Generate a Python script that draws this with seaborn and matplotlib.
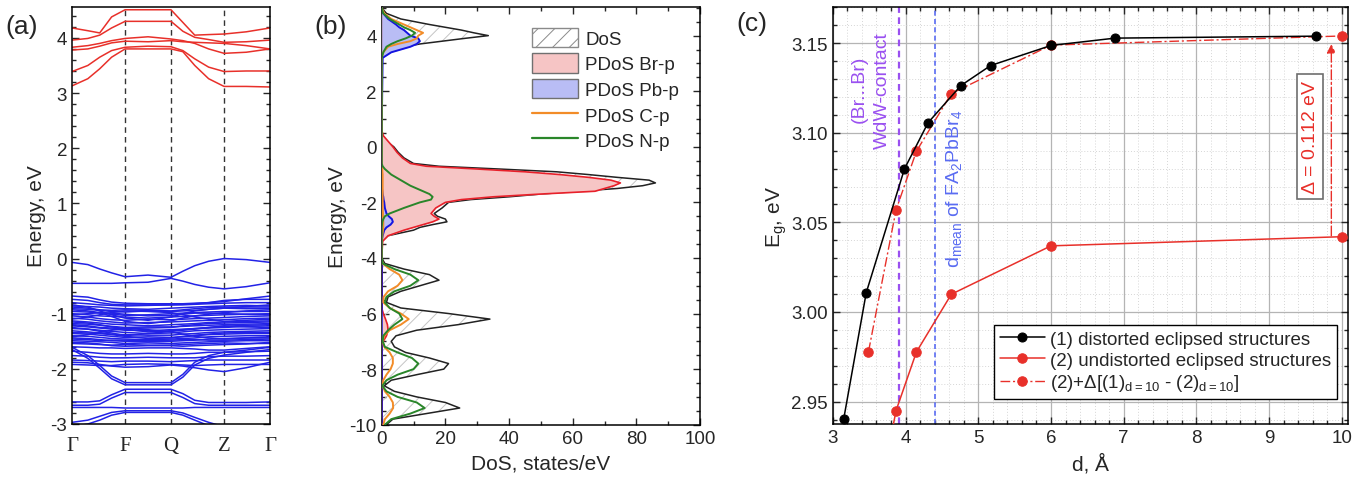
import numpy as np
import pandas as pd
import matplotlib
matplotlib.use("Agg")
import matplotlib.pyplot as plt
import seaborn as sns
from matplotlib.patches import Patch
from matplotlib.lines import Line2D
from matplotlib.ticker import MultipleLocator, FormatStrFormatter

# ------------------------------------------------------------------ data
# (a) band structure: energies (eV) at the k-path positions below
K_LABELS = ["Γ", "F", "Q", "Z", "Γ"]
K_TICKS = [0.0, 0.268, 0.5, 0.768, 1.0]
K_PATH = [0.0, 0.08, 0.14, 0.20, 0.268, 0.384, 0.5, 0.56, 0.62, 0.69, 0.768, 0.88, 1.0]

CB_BANDS = [
    [4.18, 4.13, 4.09, 4.38, 4.51, 4.51, 4.51, 4.28, 4.05, 4.06, 4.07, 4.11, 4.18],
    [3.96, 3.99, 4.05, 4.18, 4.30, 4.30, 4.30, 4.12, 4.01, 3.97, 3.92, 3.93, 3.96],
    [3.83, 3.86, 3.90, 3.95, 3.99, 4.02, 3.98, 3.95, 3.90, 3.80, 3.72, 3.74, 3.80],
    [3.78, 3.80, 3.85, 3.91, 3.94, 3.93, 3.95, 3.93, 3.92, 3.91, 3.90, 3.86, 3.80],
    [3.39, 3.50, 3.65, 3.77, 3.83, 3.85, 3.84, 3.77, 3.62, 3.47, 3.39, 3.40, 3.40],
    [3.13, 3.26, 3.44, 3.65, 3.80, 3.80, 3.80, 3.75, 3.50, 3.26, 3.12, 3.12, 3.11],
]

VB_BANDS = [
    [-0.07, -0.11, -0.19, -0.26, -0.33, -0.30, -0.34, -0.23, -0.13, -0.05, 0.00, -0.02, -0.07],
    [-0.45, -0.45, -0.45, -0.45, -0.44, -0.43, -0.36, -0.41, -0.47, -0.52, -0.55, -0.51, -0.44],
    [-0.68, -0.70, -0.75, -0.79, -0.81, -0.82, -0.82, -0.82, -0.81, -0.80, -0.78, -0.73, -0.68],
    [-0.74, -0.76, -0.80, -0.83, -0.84, -0.84, -0.84, -0.83, -0.82, -0.80, -0.76, -0.74, -0.74],
    [-0.80, -0.82, -0.84, -0.85, -0.86, -0.85, -0.84, -0.84, -0.83, -0.82, -0.81, -0.80, -0.80],
    [-0.86, -0.87, -0.88, -0.90, -0.91, -0.92, -0.90, -0.89, -0.88, -0.87, -0.86, -0.85, -0.86],
    [-0.88, -0.90, -0.93, -0.94, -0.93, -0.94, -0.95, -0.93, -0.91, -0.89, -0.88, -0.88, -0.88],
    [-0.91, -0.92, -0.94, -0.96, -0.97, -0.95, -0.96, -0.95, -0.94, -0.92, -0.90, -0.91, -0.91],
    [-0.96, -0.97, -0.99, -1.01, -1.03, -1.02, -1.00, -0.99, -0.98, -0.97, -0.96, -0.96, -0.96],
    [-1.00, -1.02, -1.04, -1.05, -1.06, -1.08, -1.06, -1.05, -1.04, -1.03, -1.02, -1.01, -1.00],
    [-1.02, -1.00, -0.98, -0.99, -1.01, -1.04, -1.03, -1.01, -0.99, -0.99, -1.00, -1.01, -1.02],
    [-1.04, -1.06, -1.09, -1.11, -1.12, -1.10, -1.11, -1.10, -1.09, -1.08, -1.07, -1.05, -1.04],
    [-1.08, -1.10, -1.13, -1.15, -1.17, -1.16, -1.15, -1.14, -1.13, -1.12, -1.11, -1.09, -1.08],
    [-1.13, -1.15, -1.17, -1.19, -1.20, -1.22, -1.20, -1.19, -1.18, -1.16, -1.15, -1.14, -1.13],
    [-1.15, -1.17, -1.20, -1.24, -1.27, -1.26, -1.25, -1.22, -1.20, -1.18, -1.17, -1.16, -1.15],
    [-1.18, -1.19, -1.21, -1.23, -1.25, -1.24, -1.24, -1.23, -1.22, -1.21, -1.20, -1.19, -1.18],
    [-1.20, -1.22, -1.25, -1.26, -1.28, -1.33, -1.31, -1.29, -1.27, -1.25, -1.23, -1.21, -1.20],
    [-1.22, -1.24, -1.26, -1.28, -1.30, -1.31, -1.29, -1.28, -1.27, -1.26, -1.25, -1.23, -1.22],
    [-1.27, -1.28, -1.30, -1.32, -1.34, -1.36, -1.35, -1.33, -1.31, -1.30, -1.29, -1.28, -1.27],
    [-1.31, -1.33, -1.35, -1.37, -1.38, -1.39, -1.39, -1.37, -1.36, -1.34, -1.33, -1.32, -1.31],
    [-1.34, -1.35, -1.36, -1.38, -1.41, -1.45, -1.44, -1.41, -1.39, -1.37, -1.35, -1.34, -1.34],
    [-1.36, -1.37, -1.39, -1.41, -1.43, -1.42, -1.43, -1.42, -1.40, -1.38, -1.37, -1.36, -1.36],
    [-1.40, -1.41, -1.43, -1.45, -1.46, -1.47, -1.46, -1.45, -1.44, -1.42, -1.41, -1.40, -1.40],
    [-1.44, -1.45, -1.47, -1.49, -1.50, -1.51, -1.50, -1.49, -1.48, -1.46, -1.45, -1.44, -1.44],
    [-1.46, -1.47, -1.49, -1.48, -1.48, -1.49, -1.48, -1.47, -1.47, -1.48, -1.48, -1.47, -1.46],
    [-1.49, -1.50, -1.51, -1.52, -1.54, -1.53, -1.54, -1.53, -1.52, -1.51, -1.50, -1.49, -1.49],
    [-1.52, -1.53, -1.55, -1.58, -1.59, -1.58, -1.58, -1.59, -1.58, -1.57, -1.56, -1.55, -1.52],
    [-0.84, -0.88, -0.95, -1.02, -1.08, -1.12, -1.06, -1.00, -0.95, -0.92, -0.90, -0.87, -0.84],
    [-1.10, -1.06, -1.02, -0.98, -0.95, -0.96, -0.98, -1.02, -1.06, -1.10, -1.14, -1.12, -1.10],
    [-1.25, -1.28, -1.32, -1.35, -1.40, -1.36, -1.32, -1.30, -1.28, -1.25, -1.22, -1.24, -1.25],
    [-1.42, -1.38, -1.34, -1.30, -1.27, -1.29, -1.33, -1.37, -1.41, -1.44, -1.46, -1.44, -1.42],
    [-1.54, -1.55, -1.56, -1.57, -1.56, -1.57, -1.57, -1.56, -1.55, -1.54, -1.53, -1.54, -1.54],
    [-0.93, -0.95, -0.98, -1.05, -1.14, -1.18, -1.13, -1.08, -1.04, -1.01, -0.98, -0.95, -0.93],
    [-1.60, -1.61, -1.62, -1.62, -1.63, -1.62, -1.62, -1.63, -1.64, -1.66, -1.66, -1.63, -1.60],
    [-1.68, -1.70, -1.72, -1.73, -1.73, -1.72, -1.73, -1.73, -1.72, -1.70, -1.70, -1.69, -1.68],
    [-1.76, -1.77, -1.79, -1.80, -1.80, -1.79, -1.80, -1.80, -1.80, -1.78, -1.77, -1.77, -1.76],
    [-1.84, -1.85, -1.86, -1.87, -1.86, -1.86, -1.87, -1.86, -1.85, -1.84, -1.84, -1.84, -1.84],
    [-1.88, -1.89, -1.92, -1.95, -1.97, -1.96, -1.93, -1.95, -1.98, -2.02, -2.05, -1.98, -1.88],
    [-1.92, -1.93, -1.94, -1.94, -1.92, -1.91, -1.92, -1.93, -1.94, -1.93, -1.92, -1.92, -1.92],
    [-1.61, -1.76, -1.94, -2.13, -2.25, -2.25, -2.25, -2.10, -1.88, -1.76, -1.70, -1.66, -1.61],
    [-1.65, -1.81, -1.99, -2.18, -2.29, -2.29, -2.29, -2.15, -1.93, -1.81, -1.75, -1.70, -1.65],
    [-2.60, -2.60, -2.58, -2.47, -2.37, -2.37, -2.37, -2.45, -2.57, -2.61, -2.61, -2.61, -2.60],
    [-2.66, -2.66, -2.64, -2.53, -2.43, -2.43, -2.43, -2.52, -2.63, -2.66, -2.66, -2.66, -2.66],
    [-2.70, -2.70, -2.70, -2.70, -2.71, -2.71, -2.71, -2.71, -2.70, -2.70, -2.70, -2.70, -2.70],
    [-2.97, -2.93, -2.86, -2.79, -2.76, -2.76, -2.76, -2.80, -2.88, -2.97, -3.05, -3.08, -3.05],
    [-3.05, -3.00, -2.93, -2.84, -2.79, -2.79, -2.79, -2.84, -2.93, -3.03, -3.10, -3.12, -3.10],
]

# (b) density of states, three energy windows (eV) and states/eV
E_DEEP = [-10.0, -9.8, -9.6, -9.4, -9.2, -9.0, -8.8, -8.6, -8.4, -8.2, -8.0, -7.8, -7.6, -7.4,
          -7.2, -7.0, -6.8, -6.6, -6.4, -6.2, -6.0, -5.8, -5.6, -5.4, -5.2, -5.0, -4.8, -4.6,
          -4.4, -4.2, -4.0]
E_VB = [-3.4, -3.2, -3.0, -2.9, -2.8, -2.7, -2.6, -2.5, -2.4, -2.2, -2.0, -1.9, -1.8, -1.7,
        -1.6, -1.5, -1.4, -1.3, -1.2, -1.1, -1.0, -0.9, -0.8, -0.7, -0.6, -0.4, -0.2, 0.0,
        0.2, 0.4, 0.6]
E_CB = [3.2, 3.4, 3.6, 3.7, 3.8, 3.9, 4.0, 4.1, 4.2, 4.3, 4.4, 4.6, 4.8, 5.0]

DOS_DEEP = [1.5, 3.5, 14, 24.5, 20, 11, 4, 0.8, 3, 11, 19.5, 21, 15, 7.5, 4, 3, 4.5, 11, 24,
            34, 21, 6, 1.5, 2, 6, 12, 18, 15, 7, 1, 0]
DOS_VB = [0, 2, 10, 12, 16, 20.5, 20, 17.5, 16.5, 19, 21, 28, 40, 50, 62, 74, 82, 86, 84, 74,
          65, 55, 37, 18, 10, 7, 5.2, 3.8, 1.5, 0.3, 0]
DOS_CB = [0, 1.5, 7.5, 12, 19, 26, 33.5, 29, 25, 20, 15, 6, 1.5, 0]

BR_DEEP = [0, 0, 0, 0, 0, 0, 0, 0, 0, 0, 0, 0, 0, 0, 0, 0.5, 1.5, 2, 1.8, 1.2, 0.5, 0, 0, 0,
           0, 0, 0, 0, 0, 0, 0]
BR_VB = [0.3, 2, 7, 10, 13, 16, 18, 16.5, 15.5, 17, 20, 25, 35, 50, 67, 70, 73, 75, 72, 65,
         56, 45, 30, 14, 9, 6.5, 4.8, 3.5, 2, 0.5, 0]
BR_CB = [0, 0, 0, 0, 0, 0, 0, 0, 0, 0, 0, 0, 0, 0]

PB_DEEP = [0] * 31
PB_VB = [0, 0.3, 0.8, 1.5, 2.8, 3.5, 3.2, 2.2, 1.5, 1.0, 0.8, 0.6, 0.5, 0.3, 0.2, 0.1, 0, 0,
         0, 0, 0, 0, 0, 0, 0, 0, 0, 0, 0, 0, 0]
PB_CB = [0.3, 3, 9, 11, 12, 11.5, 9, 8, 7, 5.5, 4.5, 2, 0.5, 0]

C_DEEP = [0.5, 1, 2.5, 3.6, 3.5, 2.5, 1, 0.3, 0.5, 1.5, 2.8, 3.5, 3.5, 2.5, 0.8, 0.3, 0.8,
          2.5, 6, 8.5, 6, 2.5, 0.5, 0.6, 2, 5, 6.5, 5.5, 2.5, 0.3, 0]
C_VB = [0, 0.2, 0.4, 0.5, 0.5, 0.5, 0.5, 0.4, 0.4, 0.3, 0.3, 0.3, 0.3, 0.3, 0.3, 0.3, 0.3,
        0.3, 0.3, 0.3, 0.3, 0.2, 0.2, 0.1, 0, 0, 0, 0, 0, 0, 0]
C_CB = [0, 0.5, 2, 5, 9, 11, 11.5, 13, 11, 9, 7, 3, 0.8, 0]

N_DEEP = [1, 3, 9, 13.5, 11, 5, 1.5, 0.2, 1.5, 5, 10, 11.5, 9.5, 5, 1, 0.3, 0.5, 2, 4, 6.5,
          5.5, 2.5, 1, 1.5, 4, 9, 11.5, 9, 4, 0.3, 0]
N_VB = [0, 0, 0, 0, 0.1, 0.2, 0.5, 1, 2.5, 7, 12, 15.5, 16, 15, 13, 11, 9, 7.5, 6, 4.5, 3,
        2, 1, 0.3, 0, 0, 0, 0, 0, 0, 0]
N_CB = [0, 0.5, 1.5, 3, 5, 7.5, 9.5, 10.5, 9, 7, 5.5, 2.5, 0.5, 0]

DOS_LABELS = ["DoS", "PDoS Br-p", "PDoS Pb-p", "PDoS C-p", "PDoS N-p"]

# (c) band gap vs interlayer distance
D_1 = [3.15, 3.46, 3.985, 4.31, 4.76, 5.17, 6.0, 6.88, 9.65]
EG_1 = [2.9403, 3.0108, 3.0798, 3.1056, 3.1263, 3.1375, 3.1487, 3.1528, 3.1539]
D_2 = [3.49, 3.87, 4.15, 4.63, 6.0, 10.0]
EG_2 = [2.8657, 2.9450, 2.9777, 3.0099, 3.0369, 3.0420]
D_3 = [3.49, 3.87, 4.15, 4.63, 6.0, 10.0]
EG_3 = [2.9777, 3.0570, 3.0897, 3.1219, 3.1489, 3.1540]
SERIES_C = ["(1) distorted eclipsed structures",
            "(2) undistorted eclipsed structures",
            r"(2)+$\Delta$[(1)$_{\mathrm{d=10}}$ - (2)$_{\mathrm{d=10}}$]"]
D_WDW = 3.905
D_MEAN = 4.40
DELTA_LABEL = r"$\Delta$ = 0.112 eV"

# ------------------------------------------------------------------ style
sns.set_style("ticks")
plt.rcParams["font.family"] = ["Liberation Sans", "DejaVu Sans"]
plt.rcParams["axes.unicode_minus"] = False
plt.rcParams["mathtext.fontset"] = "custom"
plt.rcParams["mathtext.rm"] = "Liberation Sans"
plt.rcParams["mathtext.it"] = "Liberation Sans:italic"
plt.rcParams["mathtext.bf"] = "Liberation Sans:bold"
plt.rcParams["hatch.linewidth"] = 0.7
plt.rcParams["xtick.direction"] = "in"
plt.rcParams["ytick.direction"] = "in"

RED = "#e8302a"
BLUE = "#2222e6"
TICK_FS = 13.5
LAB_FS = 15

fig = plt.figure(figsize=(13.54, 4.85), dpi=100)
W, H = 1354.0, 485.0


def px_axes(left, top, right, bottom):
    return fig.add_axes([left / W, 1 - bottom / H, (right - left) / W, (bottom - top) / H])


def style_spines(ax):
    for s in ax.spines.values():
        s.set_visible(True)
        s.set_linewidth(1.1)
        s.set_color("black")


# ------------------------------------------------------------------ (a)
ax_a = px_axes(72, 8, 270, 425)
rows = []
for i, band in enumerate(CB_BANDS):
    for k, e in zip(K_PATH, band):
        rows.append(("c%d" % i, "CB", k, e))
for i, band in enumerate(VB_BANDS):
    for k, e in zip(K_PATH, band):
        rows.append(("v%d" % i, "VB", k, e))
df_a = pd.DataFrame(rows, columns=["band", "kind", "k", "E"])
sns.lineplot(data=df_a, x="k", y="E", units="band", estimator=None, hue="kind",
             palette={"CB": RED, "VB": BLUE}, sort=False, legend=False, lw=1.1, ax=ax_a)
for k in K_TICKS[1:4]:
    ax_a.axvline(k, color="#333333", ls=(0, (4, 3)), lw=1.0, zorder=0)
ax_a.set_xlim(0, 1)
ax_a.set_ylim(-3, 4.56)
ax_a.set_xticks(K_TICKS)
ax_a.set_xticklabels(K_LABELS, family="Liberation Serif", fontsize=15)
ax_a.tick_params(axis="x", length=0, pad=9)
ax_a.yaxis.set_major_locator(MultipleLocator(1))
ax_a.yaxis.set_minor_locator(MultipleLocator(0.2))
ax_a.tick_params(axis="y", which="both", left=True, right=True, labelsize=TICK_FS, width=1)
ax_a.tick_params(axis="y", which="major", length=5)
ax_a.tick_params(axis="y", which="minor", length=3)
ax_a.set_xlabel("")
ax_a.set_ylabel("Energy, eV", fontsize=LAB_FS, labelpad=3)
style_spines(ax_a)

# ------------------------------------------------------------------ (b)
ax_b = px_axes(381.7, 8, 700, 425.7)
energy = np.array(E_DEEP + E_VB + E_CB)
dos_tot = np.array(DOS_DEEP + DOS_VB + DOS_CB)
dos_br = np.array(BR_DEEP + BR_VB + BR_CB)
dos_pb = np.array(PB_DEEP + PB_VB + PB_CB)
dos_c = np.array(C_DEEP + C_VB + C_CB)
dos_n = np.array(N_DEEP + N_VB + N_CB)

ax_b.fill_betweenx(energy, 0, dos_tot, facecolor="none", edgecolor="#c4c4c4",
                   hatch="//", lw=0, zorder=1)
sns.lineplot(x=dos_tot, y=energy, orient="y", estimator=None, color="#222222", lw=1.1,
             ax=ax_b, zorder=2)
ax_b.fill_betweenx(energy, 0, dos_br, facecolor="#f6c5c5", lw=0, zorder=3)
sns.lineplot(x=dos_br, y=energy, orient="y", estimator=None, color="#e8202a", lw=1.2,
             ax=ax_b, zorder=4)
ax_b.fill_betweenx(energy, 0, dos_pb, facecolor="#b9bdf5", lw=0, zorder=5)
sns.lineplot(x=dos_pb, y=energy, orient="y", estimator=None, color="#1414e0", lw=1.4,
             ax=ax_b, zorder=6)
sns.lineplot(x=dos_c, y=energy, orient="y", estimator=None, color="#f28c28", lw=1.4,
             ax=ax_b, zorder=7)
sns.lineplot(x=dos_n, y=energy, orient="y", estimator=None, color="#2a862a", lw=1.4,
             ax=ax_b, zorder=8)
ax_b.set_xlim(0, 100)
ax_b.set_ylim(-10, 5.03)
ax_b.xaxis.set_major_locator(MultipleLocator(20))
ax_b.xaxis.set_minor_locator(MultipleLocator(10))
ax_b.yaxis.set_major_locator(MultipleLocator(2))
ax_b.yaxis.set_minor_locator(MultipleLocator(0.5))
ax_b.tick_params(which="both", top=True, right=True, labelsize=TICK_FS, width=1)
ax_b.tick_params(which="major", length=5)
ax_b.tick_params(which="minor", length=3)
ax_b.set_xlabel("DoS, states/eV", fontsize=LAB_FS, labelpad=5)
ax_b.set_ylabel("Energy, eV", fontsize=LAB_FS, labelpad=2)
style_spines(ax_b)
handles_b = [
    Patch(facecolor="white", edgecolor="#8a8a8a", hatch="//", lw=1),
    Patch(facecolor="#f6c5c5", edgecolor="#707070", lw=1),
    Patch(facecolor="#b9bdf5", edgecolor="#707070", lw=1),
    Line2D([], [], color="#f28c28", lw=1.6),
    Line2D([], [], color="#2a862a", lw=1.6),
]
ax_b.legend(handles_b, DOS_LABELS, loc="upper left", bbox_to_anchor=(0.471, 0.95),
            frameon=False, borderpad=0, borderaxespad=0, handlelength=2.45,
            handleheight=1.2, handletextpad=0.4, labelspacing=0.3, fontsize=13.5)

# ------------------------------------------------------------------ (c)
ax_c = px_axes(832.8, 8.3, 1347.7, 425)
ax_c.set_xlim(3, 10.08)
ax_c.set_ylim(2.9375, 3.170)
ax_c.xaxis.set_major_locator(MultipleLocator(1))
ax_c.xaxis.set_minor_locator(MultipleLocator(0.2))
ax_c.yaxis.set_major_locator(MultipleLocator(0.05))
ax_c.yaxis.set_minor_locator(MultipleLocator(0.01))
ax_c.yaxis.set_major_formatter(FormatStrFormatter("%.2f"))
ax_c.grid(which="major", color="#b4b4b4", lw=0.9)
ax_c.grid(which="minor", color="#d6d6d6", ls=(0, (1, 2)), lw=0.7)
ax_c.set_axisbelow(True)

ax_c.axvline(D_WDW, color="#9a50f0", ls=(0, (3, 2)), lw=1.6, zorder=2)
ax_c.axvline(D_MEAN, color="#5a6cf2", ls=(0, (3, 2)), lw=1.2, zorder=2)

sns.lineplot(x=D_3, y=EG_3, color=RED, lw=1.0, linestyle=(0, (7, 2, 1.5, 2)), marker="o",
             markersize=6.8, markeredgecolor=RED, label=SERIES_C[2], ax=ax_c, zorder=3)
sns.lineplot(x=D_2, y=EG_2, color=RED, lw=1.1, marker="o", markersize=6.8,
             markeredgecolor=RED, label=SERIES_C[1], ax=ax_c, zorder=4)
sns.lineplot(x=D_1, y=EG_1, color="black", lw=1.1, marker="o", markersize=6.5,
             markeredgecolor="black", label=SERIES_C[0], ax=ax_c, zorder=5)

ax_c.annotate("", xy=(9.855, 3.1495), xytext=(9.855, 3.0425),
              arrowprops=dict(arrowstyle="-|>", color=RED, lw=1.0, ls=(0, (7, 2, 1.5, 2)),
                              mutation_scale=13, shrinkA=0, shrinkB=0), zorder=6)
ax_c.text(9.563, 3.0978, DELTA_LABEL, rotation=90, ha="center", va="center", color=RED,
          fontsize=14, zorder=7,
          bbox=dict(boxstyle="square,pad=0.25", fc="white", ec="#6e6e6e", lw=1.2))
ax_c.text(3.36, 3.125, "(Br...Br)", rotation=90, ha="center", va="center",
          color="#9a50f0", fontsize=14)
ax_c.text(3.684, 3.1242, "WdW-contact", rotation=90, ha="center", va="center",
          color="#9a50f0", fontsize=14)
ax_c.text(4.667, 3.0693, r"d$_{\mathrm{mean}}$ of FA$_2$PbBr$_4$", rotation=90,
          ha="center", va="center", color="#5a6cf2", fontsize=14)

h, l = ax_c.get_legend_handles_labels()
order = [l.index(s) for s in SERIES_C]
ax_c.legend([h[i] for i in order], [l[i] for i in order], loc="lower right",
            bbox_to_anchor=(0.979, 0.06), borderaxespad=0, frameon=True, fancybox=False,
            edgecolor="black", framealpha=1, fontsize=13.5, handlelength=2.4,
            handletextpad=0.3, labelspacing=0.2, borderpad=0.3)
ax_c.get_legend().get_frame().set_linewidth(1.0)

ax_c.tick_params(which="both", top=True, right=True, labelsize=TICK_FS, width=1)
ax_c.tick_params(which="major", length=5)
ax_c.tick_params(which="minor", length=3)
ax_c.set_xlabel("d, Å", fontsize=LAB_FS, labelpad=5)
ax_c.set_ylabel(r"E$_{\mathrm{g}}$, eV", fontsize=LAB_FS, labelpad=2)
style_spines(ax_c)

# panel labels
fig.text(22 / W, 1 - 27 / H, "(a)", fontsize=19, ha="center", va="center")
fig.text(331 / W, 1 - 27 / H, "(b)", fontsize=19, ha="center", va="center")
fig.text(752 / W, 1 - 24 / H, "(c)", fontsize=19, ha="center", va="center")

fig.savefig("out.png", dpi=100)
